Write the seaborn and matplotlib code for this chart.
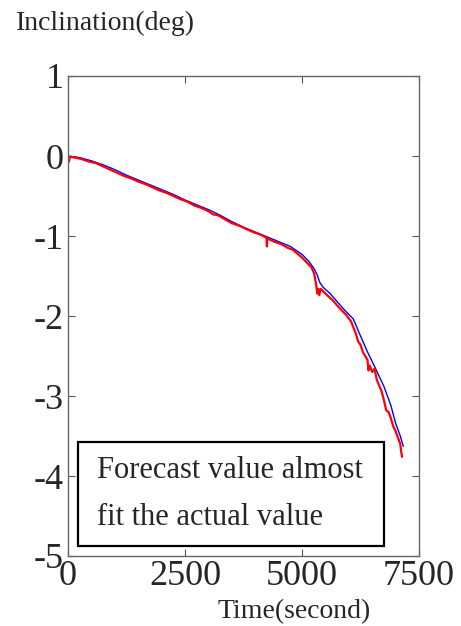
import matplotlib
matplotlib.use("Agg")
import matplotlib.pyplot as plt
from matplotlib.patches import Rectangle
import seaborn as sns
import pandas as pd

# Forecast (blue)
forecast_t = [0, 250, 500, 750, 1000, 1250, 1500, 1750, 2000, 2250, 2500, 2750,
              3000, 3250, 3500, 3750, 4000, 4250, 4500, 4750, 5000, 5150, 5250,
              5320, 5380, 5450, 5600, 5750, 5900, 6100, 6250, 6400, 6550, 6750,
              6900, 7000, 7100, 7165]
forecast_v = [0.0, -0.02, -0.06, -0.11, -0.17, -0.24, -0.30, -0.36, -0.42, -0.48,
              -0.55, -0.61, -0.67, -0.74, -0.82, -0.89, -0.95, -1.01, -1.07, -1.13,
              -1.23, -1.32, -1.40, -1.48, -1.58, -1.64, -1.72, -1.82, -1.92, -2.04,
              -2.25, -2.45, -2.63, -2.88, -3.12, -3.34, -3.50, -3.63]

# Actual (red)
actual_t = [0, 20, 40, 150, 300, 450, 600, 750, 900, 1050, 1200, 1350, 1500, 1650,
            1800, 1950, 2100, 2250, 2400, 2550, 2700, 2850, 3000, 3100, 3200, 3350,
            3500, 3650, 3800, 3950, 4100, 4240, 4250, 4260, 4400, 4550, 4700, 4800,
            4900, 5000, 5100, 5200, 5260, 5300, 5330, 5350, 5370, 5400, 5500, 5650,
            5800, 5950, 6050, 6150, 6200, 6250, 6300, 6350, 6400, 6420, 6450, 6500,
            6550, 6600, 6700, 6750, 6800, 6850, 6900, 6950, 7000, 7050, 7100, 7120,
            7140]
actual_v = [0.0, -0.07, -0.01, -0.02, -0.04, -0.07, -0.09, -0.13, -0.17, -0.21,
            -0.25, -0.28, -0.32, -0.35, -0.39, -0.43, -0.46, -0.50, -0.54, -0.57,
            -0.62, -0.65, -0.69, -0.73, -0.74, -0.79, -0.84, -0.87, -0.91, -0.95,
            -0.98, -1.02, -1.13, -1.03, -1.07, -1.10, -1.15, -1.17, -1.22, -1.27,
            -1.33, -1.39, -1.47, -1.60, -1.72, -1.66, -1.74, -1.66, -1.72, -1.80,
            -1.90, -1.99, -2.07, -2.22, -2.32, -2.36, -2.45, -2.50, -2.55, -2.68,
            -2.62, -2.70, -2.66, -2.80, -2.94, -3.05, -3.18, -3.20, -3.28, -3.38,
            -3.44, -3.52, -3.60, -3.70, -3.76]

x_ticks = [0, 2500, 5000, 7500]
y_ticks = [1, 0, -1, -2, -3, -4, -5]
note_lines = ["Forecast value almost", "fit the actual value"]

sns.set_style("ticks")
plt.rcParams["font.family"] = ["Liberation Serif", "DejaVu Serif"]

fig = plt.figure(figsize=(4.61, 6.26), dpi=100)
ax = fig.add_axes([68 / 461, 70 / 626, 351 / 461, 480 / 626])

df_f = pd.DataFrame({"t": forecast_t, "v": forecast_v})
df_a = pd.DataFrame({"t": actual_t, "v": actual_v})
sns.lineplot(data=df_f, x="t", y="v", color="#0000ff", lw=1.0,
             estimator=None, sort=False, ax=ax)
sns.lineplot(data=df_a, x="t", y="v", color="#ff0000", lw=1.6,
             estimator=None, sort=False, ax=ax)

ax.set_xlim(0, 7500)
ax.set_ylim(-5, 1)
ax.set_xticks(x_ticks)
ax.set_xticklabels([str(t) for t in x_ticks])
ax.set_yticks(y_ticks)
ax.set_yticklabels([str(t) for t in y_ticks])
ax.set_xlabel("")
ax.set_ylabel("")
ax.tick_params(direction="in", length=5, width=0.8, color="#555555",
               labelsize=26, top=True, right=True, pad=3)
ax.tick_params(axis="x", pad=3)
for s in ax.spines.values():
    s.set_visible(True)
    s.set_color("#666666")
    s.set_linewidth(1.0)

ax.add_patch(Rectangle((214, -4.88), 6538, 1.31, fill=False,
                       edgecolor="black", lw=1.6, zorder=5))
ax.text(620, -3.93, note_lines[0], fontsize=22, va="center", ha="left", zorder=6)
ax.text(620, -4.52, note_lines[1], fontsize=22, va="center", ha="left", zorder=6)

fig.text(16 / 461, 1 - 23 / 626, "Inclination(deg)", fontsize=20,
         ha="left", va="center")
fig.text(294 / 461, 1 - 612 / 626, "Time(second)", fontsize=20,
         ha="center", va="center")

fig.savefig("out.png", dpi=100)
